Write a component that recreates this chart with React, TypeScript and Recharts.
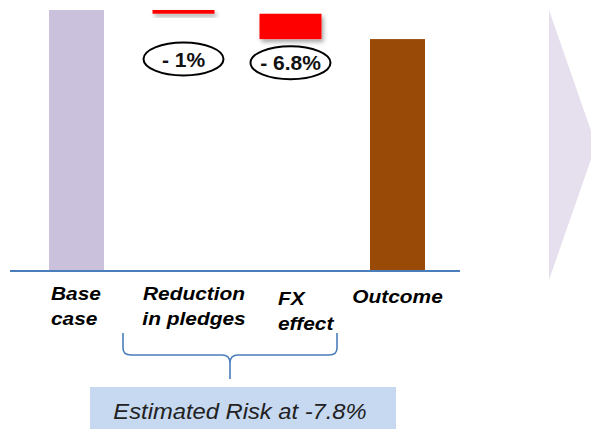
import React from 'react';
import { ComposedChart, Bar, XAxis, YAxis, LabelList } from 'recharts';

const CATEGORIES = ['Base case', 'Reduction in pledges', 'FX effect', 'Outcome'];
const TICK_LINES = [['Base', 'case'], ['Reduction', 'in pledges'], ['FX', 'effect'], ['Outcome']];
const START_VALUE = 100;
const STEP_CHANGES = [-1, -6.8]; // pledges, FX
const STEP_LABELS = ['- 1%', '- 6.8%'];
const TOTAL_LABEL = 'Estimated Risk at -7.8%';
const AXIS_FLOOR = 30;

const BAR_FILLS = ['#cac1dc', '#ff0000', '#ff0000', '#9a4a07'];
const AXIS_BLUE = '#4a7ebb';
const FONT = '"Liberation Sans", Arial, sans-serif';
const TEXT_STRETCH = 1.1; // slide text is a touch wider than plain Arial

// waterfall rows: totals sit on the axis floor, steps float between running totals
let running = START_VALUE;
const rows = [
  { name: CATEGORIES[0], range: [AXIS_FLOOR, START_VALUE], label: undefined as string | undefined },
  ...STEP_CHANGES.map((d, i) => {
    const top = running;
    running = Math.round((running + d) * 10) / 10;
    return { name: CATEGORIES[i + 1], range: [running, top], label: STEP_LABELS[i] };
  }),
  { name: CATEGORIES[3], range: [AXIS_FLOOR, running], label: undefined },
];

// per-tick text placement (offset from band centre)
const TICK_NUDGE = [
  { dx: -25.5, dy: 29, anchor: 'start' },
  { dx: 10.5, dy: 29, anchor: 'middle' },
  { dx: -12.5, dy: 34, anchor: 'start' },
  { dx: 0, dy: 32, anchor: 'middle' },
];

const CategoryTick = (props: any) => {
  const { x, y, payload } = props;
  const i = props.index ?? payload.index ?? 0;
  const n = TICK_NUDGE[i];
  return (
    <g transform={`translate(${x + n.dx},${y + n.dy}) scale(${TEXT_STRETCH},1)`}>
      <text x={0} y={0} textAnchor={n.anchor} fontFamily={FONT} fontSize={19}
        fontWeight="bold" fontStyle="italic" fill="#000">
        {TICK_LINES[i].map((line, k) => (
          <tspan key={k} x={0} dy={k ? 25 : 0}>{line}</tspan>
        ))}
      </text>
    </g>
  );
};

const WaterfallBar = (props: any) => {
  const { x, y, width, height, index } = props;
  const top = Math.min(y, y + height);
  const h = Math.abs(height);
  if (rows[index].label) {
    return <rect x={x - 3.5} y={top} width={width + 7} height={h} fill={BAR_FILLS[index]} filter="url(#stepShadow)" />;
  }
  return <rect x={x} y={top} width={width} height={h} fill={BAR_FILLS[index]} />;
};

const StepBadge = (props: any) => {
  const { x, y, width, height, value } = props;
  if (!value) return null;
  const cx = x + width / 2;
  const cy = Math.min(y, y + height) + 49;
  return (
    <g>
      <ellipse cx={cx} cy={cy} rx={40} ry={16.5} fill="#fff" stroke="#000" strokeWidth={2} />
      <text x={cx} y={cy + 7.5} textAnchor="middle" fontFamily={FONT} fontSize={21} fontWeight="bold" fill="#111">
        {value}
      </text>
    </g>
  );
};

export default function App() {
  return (
    <div style={{ position: 'absolute', left: 0, top: 0, width: 591, height: 429, overflow: 'hidden', background: '#fff', fontFamily: FONT }}>
      <svg width={0} height={0} style={{ position: 'absolute' }}>
        <defs>
          <filter id="stepShadow" x="-20%" y="-50%" width="150%" height="260%">
            <feDropShadow dx="2" dy="3" stdDeviation="2" floodColor="#000" floodOpacity="0.35" />
          </filter>
        </defs>
      </svg>

      <ComposedChart width={591} height={429} data={rows} margin={{ top: 10, left: 10, right: 131, bottom: 128 }}>
        <XAxis dataKey="name" interval={0} tickLine={false} tickSize={0} tickMargin={0}
          axisLine={{ stroke: AXIS_BLUE, strokeWidth: 2 }} padding={{ left: 13, right: 9 }}
          tick={<CategoryTick />} />
        <YAxis hide domain={[AXIS_FLOOR, START_VALUE]} />
        <Bar dataKey="range" barSize={55} shape={<WaterfallBar />} isAnimationActive={false}>
          <LabelList dataKey="label" content={<StepBadge />} />
        </Bar>
      </ComposedChart>

      <svg width={591} height={429} style={{ position: 'absolute', left: 0, top: 0, pointerEvents: 'none' }}>
        {/* next-step chevron */}
        <polygon points="549,10 596,145 549,280" fill="#e6e0ee" />
        {/* brace grouping the two steps */}
        <path d="M123,333 L123,348 Q123,355 131,355 L222,355 Q230,355 230,363 L230,379 M230,363 Q230,355 238,355 L329,355 Q337,355 337,348 L337,333"
          fill="none" stroke={AXIS_BLUE} strokeWidth={1.6} />
        <rect x={90} y={387} width={306} height={50} fill="#c6d9f1" />
        <g transform={`translate(240,419) scale(1.08,1)`}>
          <text x={0} y={0} textAnchor="middle" fontFamily={FONT} fontSize={22} fontStyle="italic" fill="#222">
            {TOTAL_LABEL}
          </text>
        </g>
      </svg>
    </div>
  );
}
